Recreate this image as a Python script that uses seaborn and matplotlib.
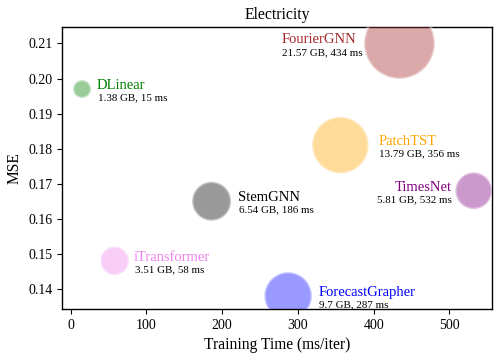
import matplotlib
matplotlib.use("Agg")
import matplotlib.pyplot as plt
import seaborn as sns
import pandas as pd

models = ["DLinear", "FourierGNN", "PatchTST", "TimesNet", "StemGNN", "iTransformer", "ForecastGrapher"]
train_time = [15, 434, 356, 532, 186, 58, 287]          # ms/iter
mse = [0.197, 0.210, 0.181, 0.168, 0.165, 0.148, 0.138]
memory = [1.38, 21.57, 13.79, 5.81, 6.54, 3.51, 9.7]    # GB
colors = ["green", "brown", "orange", "purple", "black", "violet", "blue"]

# label placement (offset in points from bubble centre, horizontal alignment)
label_dx = [10.8, -85, 27.4, -15.8, 19, 14, 22]
label_ha = ["left", "left", "left", "right", "left", "left", "left"]

df = pd.DataFrame({"model": models, "time": train_time, "mse": mse, "mem": memory})

sns.set_style("ticks")
plt.rcParams["font.family"] = ["Liberation Serif", "DejaVu Serif"]
plt.rcParams["mathtext.fontset"] = "stix"

fig, ax = plt.subplots(figsize=(5.04, 3.6), dpi=100)
fig.subplots_adjust(left=0.123, right=0.976, top=0.924, bottom=0.142)

k = 120
sns.scatterplot(data=df, x="time", y="mse", hue="model", palette=dict(zip(models, colors)),
                size="mem", sizes=(min(memory) * k, max(memory) * k),
                alpha=0.4, edgecolor="white", linewidth=2, legend=False, ax=ax, zorder=3)

for m, t, y, g, c, dx, ha in zip(models, train_time, mse, memory, colors, label_dx, label_ha):
    ax.annotate(m, (t, y), xytext=(dx, 0), textcoords="offset points",
                ha=ha, va="baseline", color=c, fontsize=10.5)
    ax.annotate(f"{g} GB, {t} ms", (t, y), xytext=(dx + (0.5 if ha == "left" else 0), -8.3),
                textcoords="offset points", ha=ha, va="baseline", color="black", fontsize=7.9)

ax.set_xlim(-11.5, 556)
ax.set_ylim(0.1343, 0.2146)
ax.set_xticks([0, 100, 200, 300, 400, 500])
ax.set_yticks([0.14, 0.15, 0.16, 0.17, 0.18, 0.19, 0.20, 0.21])
ax.set_yticklabels([f"{v:.2f}" for v in [0.14, 0.15, 0.16, 0.17, 0.18, 0.19, 0.20, 0.21]])
ax.tick_params(labelsize=10, colors="black", length=3.5, width=0.8)
for s in ax.spines.values():
    s.set_color("black")
    s.set_linewidth(1.0)
ax.set_xlabel("Training Time (ms/iter)", fontsize=11.2, color="black")
ax.set_ylabel("MSE", fontsize=11.2, color="black")
ax.set_title("Electricity", fontsize=11.3, color="black")

fig.savefig("out.png", dpi=100)
